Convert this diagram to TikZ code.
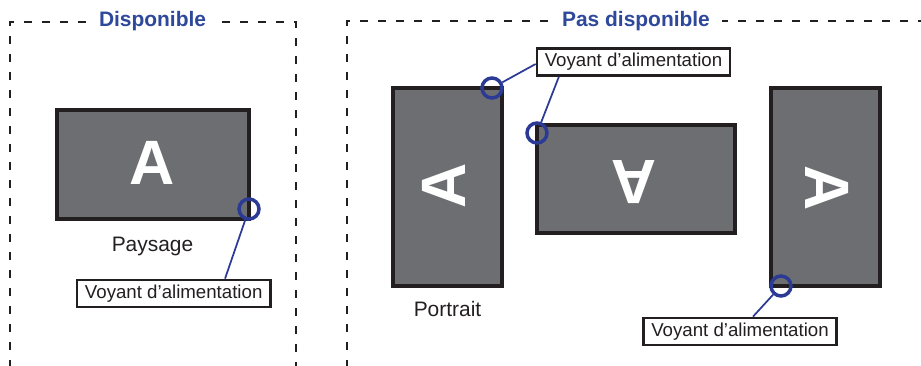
\documentclass[tikz,border=0pt]{standalone}
\usepackage{fontspec}
\setmainfont{Liberation Sans}
\definecolor{tblue}{RGB}{46,72,155}
\definecolor{cblue}{RGB}{43,58,148}
\definecolor{mgray}{RGB}{109,110,113}
\definecolor{mblack}{RGB}{35,31,32}
\begin{document}
\begin{tikzpicture}[x=0.75pt,y=-0.75pt,
  frame/.style={draw=mblack, line width=1.8pt, dash pattern=on 6pt off 7.5pt},
  title/.style={fill=white, text=tblue, font=\bfseries\fontsize{15.7}{18}\selectfont, inner xsep=9pt, inner ysep=2pt, anchor=base},
  screen/.style={draw=mblack, fill=mgray, line width=3.6pt},
  bigA/.style={text=white, font=\bfseries\fontsize{47}{50}\selectfont, inner sep=0pt},
  led/.style={draw=cblue, line width=2.6pt, circle, minimum size=15pt, inner sep=0pt},
  conn/.style={draw=cblue, line width=1.3pt},
  lbl/.style={draw=mblack, line width=1.8pt, fill=white, text=mblack, font=\fontsize{14}{16}\selectfont, minimum width=145pt, minimum height=20.5pt, inner sep=0pt},
  caption/.style={text=mblack, font=\fontsize{15.7}{18}\selectfont, anchor=base}
]
\useasboundingbox (0,0) rectangle (921,365);
% frames
\draw[frame] (10,368) -- (10,22) -- (296,22) -- (296,368);
\draw[frame] (347,368) -- (347,21) -- (930,21);
\node[title] (t1) at (152.5,26.5) {Disponible};
\node[title] (t2) at (636,26) {Pas disponible};
% left monitor
\draw[screen] (57,110) rectangle (249,219);
\node[bigA] (a1) at (152,162.5) {A};
\node[caption] (pay) at (152.5,251.7) {Paysage};
\node[led] (c1) at (249,209) {};
\node[lbl] (lab1) at (173.7,293.5) {Voyant d’alimentation};
\draw[conn] (c1) -- ([xshift=38.5pt]lab1.north);
% portrait monitor
\draw[screen] (393,88) rectangle (502,286);
\node[bigA, rotate=90] (a2) at (444,185.5) {A};
\node[caption] (por) at (447.5,316.7) {Portrait};
% upside-down landscape
\draw[screen] (537,125) rectangle (735,233);
\node[bigA, rotate=180] (a3) at (634,182) {A};
% right portrait
\draw[screen] (771,88) rectangle (880,286);
\node[bigA, rotate=-90] (a4) at (827.5,188) {A};
% leds and labels
\node[led] (c2) at (492,88) {};
\node[led] (c3) at (537,133) {};
\node[led] (c4) at (781,286) {};
\node[lbl] (lab2) at (633.5,62) {Voyant d’alimentation};
\node[lbl] (lab3) at (740,331.5) {Voyant d’alimentation};
\draw[conn] (c2) -- ([yshift=-1.5pt]lab2.west);
\draw[conn] ([xshift=-56pt]lab2.south) -- (c3);
\draw[conn] (c4) -- ([xshift=9.75pt]lab3.north);
\end{tikzpicture}
\end{document}
